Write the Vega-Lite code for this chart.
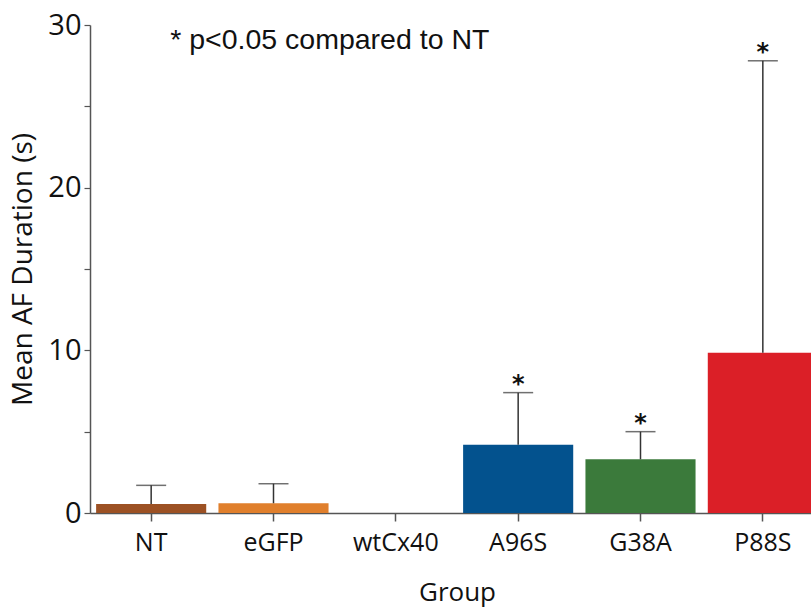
{
  "$schema": "https://vega.github.io/schema/vega-lite/v6.json",
  "autosize": {"type": "none"},
  "padding": {"left": 90, "top": 25, "right": 0, "bottom": 95},
  "width": 721,
  "height": 488,
  "background": "white",
  "config": {"view": {"stroke": null}},
  "data": {
    "values": [
      {"group": "NT", "mean": 0.55, "upper": 1.7, "star": ""},
      {"group": "eGFP", "mean": 0.6, "upper": 1.8, "star": ""},
      {"group": "wtCx40", "mean": 0, "upper": null, "star": ""},
      {"group": "A96S", "mean": 4.2, "upper": 7.4, "star": "*"},
      {"group": "G38A", "mean": 3.3, "upper": 5.0, "star": "*"},
      {"group": "P88S", "mean": 9.85, "upper": 27.8, "star": "*"}
    ]
  },
  "encoding": {
    "x": {
      "field": "group",
      "type": "nominal",
      "sort": null,
      "scale": {"range": [0, 734], "paddingInner": 0.1, "paddingOuter": 0.05},
      "axis": {
        "title": "Group",
        "titleFont": "Open Sans",
        "titleFontSize": 26,
        "titleFontWeight": "normal",
        "titleColor": "#111",
        "titleX": 367,
        "titlePadding": 24,
        "labelFont": "Open Sans",
        "labelFontSize": 25,
        "labelColor": "#111",
        "labelAngle": 0,
        "labelPadding": 9,
        "domainColor": "#555",
        "domainWidth": 1.5,
        "tickColor": "#555",
        "tickWidth": 1.5,
        "tickSize": 8
      }
    }
  },
  "layer": [
    {
      "mark": {"type": "bar"},
      "encoding": {
        "y": {
          "field": "mean",
          "type": "quantitative",
          "scale": {"domain": [0, 30], "nice": false},
          "axis": {
            "title": "Mean AF Duration (s)",
            "titleFont": "Open Sans",
            "titleFontSize": 28,
            "titleFontWeight": "normal",
            "titleColor": "#111",
            "titlePadding": 10,
            "values": [0, 5, 10, 15, 20, 25, 30],
            "labelExpr": "datum.value % 10 === 0 ? datum.label : ''",
            "labelFont": "Open Sans",
            "labelFontSize": 29,
            "labelColor": "#111",
            "labelPadding": 3,
            "grid": false,
            "domainColor": "#555",
            "domainWidth": 1.5,
            "tickColor": "#555",
            "tickWidth": 1.2,
            "tickSize": 6
          }
        },
        "color": {
          "field": "group",
          "type": "nominal",
          "legend": null,
          "scale": {
            "domain": ["NT", "eGFP", "wtCx40", "A96S", "G38A", "P88S"],
            "range": ["#9C5124", "#E07F2C", "#888888", "#03528E", "#3B7A3B", "#DB1F27"]
          }
        }
      }
    },
    {
      "transform": [{"filter": "datum.upper != null"}],
      "mark": {"type": "rule", "color": "#333", "strokeWidth": 1.5},
      "encoding": {
        "y": {"field": "mean", "type": "quantitative"},
        "y2": {"field": "upper"}
      }
    },
    {
      "transform": [{"filter": "datum.upper != null"}],
      "mark": {"type": "tick", "color": "#333", "thickness": 1.5, "size": 30},
      "encoding": {
        "y": {"field": "upper", "type": "quantitative"}
      }
    },
    {
      "transform": [{"filter": "datum.star != ''"}],
      "mark": {"type": "text", "font": "DejaVu Sans", "fontSize": 24, "fontWeight": "bold", "baseline": "bottom", "dy": 4, "color": "#111"},
      "encoding": {
        "y": {"field": "upper", "type": "quantitative"},
        "text": {"field": "star"}
      }
    },
    {
      "data": {"values": [{"label": "* p<0.05 compared to NT", "g": "NT", "v": 29.1}]},
      "mark": {"type": "text", "font": "Liberation Sans", "fontSize": 28.5, "align": "left", "baseline": "middle", "dx": 19, "dy": 0, "color": "#111"},
      "encoding": {
        "x": {"field": "g", "type": "nominal"},
        "y": {"field": "v", "type": "quantitative"},
        "text": {"field": "label"}
      }
    }
  ]
}
